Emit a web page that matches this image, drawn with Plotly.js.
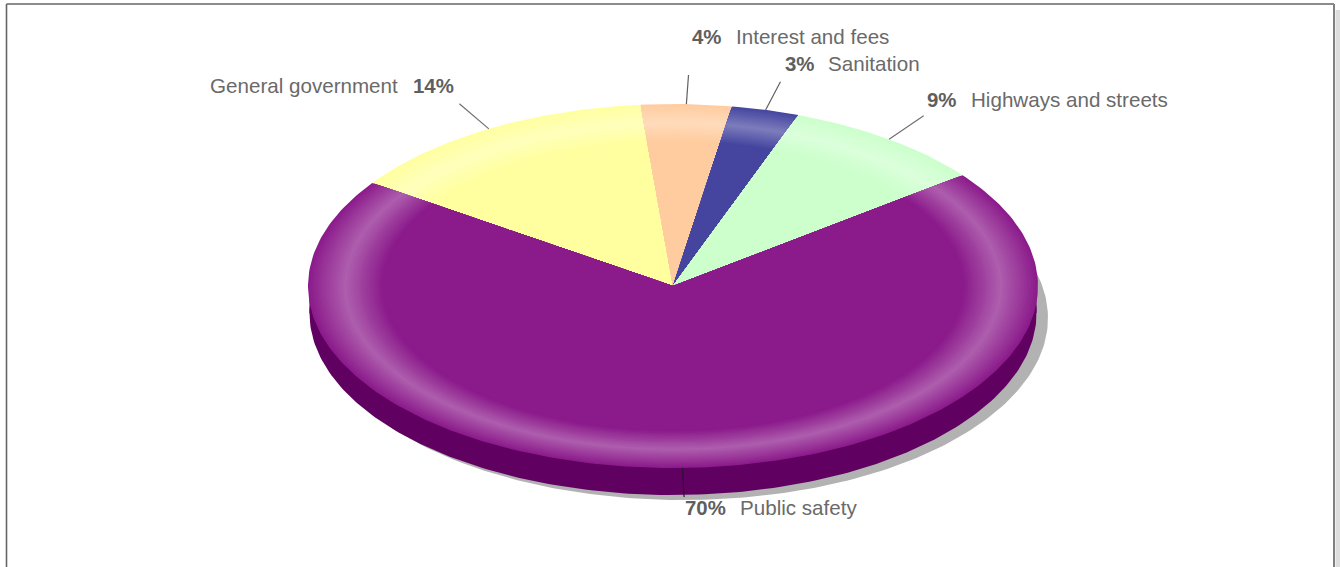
<!DOCTYPE html>
<html>
<head>
<meta charset="utf-8">
<script src="https://cdn.plot.ly/plotly-3.0.1.min.js"></script>
<style>html,body{margin:0;padding:0;background:#fff;overflow:hidden}#chart{width:1340px;height:567px}</style>
</head>
<body>
<div id="chart"></div>
<script>
const categories = ["General government", "Interest and fees", "Sanitation", "Highways and streets", "Public safety"];
const values = [14, 4, 3, 9, 70];
const sliceColors = [[255,255,160], [255,204,159], [69,69,160], [204,255,204], [139,26,139]];
const leaderColors = ["#707070", "#606060", "#606060", "#707070", "#2a1030"];
const percentLabelBox = [[413,85.5], [692,36.8], [785,63.5], [927,99.5], [685,507.5]];
const nameLabelBox = [[210,85.5], [736,36.8], [828,63.5], [971,99.5], [740,507.5]];

const W = 1340, H = 567;
const cx = 673, cy = 286, rx = 365, ry = 182;
const startDeg = -55.5, depth = 27, leaderK = 1.16;
const bands = 34, peakR = 0.897, innerR = 0.795, peakAlpha = 0.30;

const px = x => x / W, py = y => 1 - y / H;
const total = values.reduce((a, b) => a + b, 0);
const traces = [];
const rad = d => d * Math.PI / 180;
const pt = (deg, r) => [r * Math.sin(rad(deg)), r * Math.cos(rad(deg))];

function poly(xs, ys, color) {
  traces.push({type: "scatter", mode: "lines", x: xs, y: ys, fill: "toself", fillcolor: color,
    line: {width: 0, color: color}, hoverinfo: "skip", showlegend: false});
}
function ellipse(dx, dy, r) {
  const xs = [], ys = [];
  for (let d = 0; d <= 360; d += 1) { xs.push(dx + r * Math.sin(rad(d))); ys.push(dy + Math.cos(rad(d))); }
  return [xs, ys];
}
// drop shadow
const sh = ellipse(10 / rx, -32 / ry, 1);
poly(sh[0], sh[1], "#b2b2b2");
// rim: lower half only, so nothing dark shows along the top edge of the slices
const rim = ellipse(0, -depth / ry, 0.996);
poly(rim[0], rim[1], "#600060");
(function () {
  const xs = [-0.996, 0.996, 0.996, -0.996], ys = [0, 0, -depth / ry, -depth / ry];
  poly(xs, ys, "#600060");
})();

// slices with bevel highlight
function alphaAt(r) {
  if (r >= peakR) return peakAlpha * (1 - (r - peakR) / (1 - peakR));
  if (r <= innerR) return 0;
  return peakAlpha * (r - innerR) / (peakR - innerR);
}
function mix(c, a) {
  return "rgb(" + c.map(v => Math.round(v + (255 - v) * a)).join(",") + ")";
}
let acc = startDeg;
const mids = [];
values.forEach((v, i) => {
  const span = v / total * 360;
  const a0 = acc, a1 = acc + span;
  mids.push((a0 + a1) / 2);
  for (let b = 0; b <= bands; b++) {
    const r = 1 - (1 - (innerR - 0.005)) * b / bands;
    const rMid = r - 0.5 * (1 - innerR) / bands;
    const xs = [0], ys = [0];
    const n = Math.ceil(span);
    for (let k = 0; k <= n; k++) {
      const p = pt(a0 + span * k / n, r);
      xs.push(p[0]); ys.push(p[1]);
    }
    xs.push(0); ys.push(0);
    poly(xs, ys, mix(sliceColors[i], alphaAt(rMid)));
  }
  acc = a1;
});

// leader lines
mids.forEach((m, i) => {
  const a = pt(m, 1), b = pt(m, leaderK);
  traces.push({type: "scatter", mode: "lines", x: [a[0], b[0]], y: [a[1], b[1]],
    line: {width: 1.2, color: leaderColors[i]}, hoverinfo: "skip", showlegend: false});
});

const nameFont = {family: "Arial, 'Liberation Sans', sans-serif", size: 20.6, color: "#6a6a6a"};
const pctFont = {family: "Arial, 'Liberation Sans', sans-serif", size: 20.4, color: "#5f5f5f"};
const annotations = [];
categories.forEach((c, i) => {
  annotations.push({xref: "paper", yref: "paper", x: px(nameLabelBox[i][0]), y: py(nameLabelBox[i][1]),
    xanchor: "left", yanchor: "middle", text: c, showarrow: false, font: nameFont, borderpad: 0, borderwidth: 0});
  annotations.push({xref: "paper", yref: "paper", x: px(percentLabelBox[i][0]), y: py(percentLabelBox[i][1]),
    xanchor: "left", yanchor: "middle", text: "<b>" + values[i] + "%</b>", showarrow: false, font: pctFont, borderpad: 0, borderwidth: 0});
});

const frameLine = {color: "#666666", width: 1.6};
const shapes = [
  {type: "rect", xref: "paper", yref: "paper", x0: px(1335.5), x1: 1, y0: 0, y1: py(10), fillcolor: "#dddddd", line: {width: 0}, layer: "below"},
  {type: "line", xref: "paper", yref: "paper", x0: px(6.5), x1: px(6.5), y0: 0, y1: py(4), line: frameLine},
  {type: "line", xref: "paper", yref: "paper", x0: px(6.5), x1: px(1334), y0: py(4), y1: py(4), line: frameLine},
  {type: "line", xref: "paper", yref: "paper", x0: px(1334), x1: px(1334), y0: 0, y1: py(4), line: {color: "#808080", width: 2}}
];

const layout = {
  width: W, height: H,
  margin: {l: 0, r: 0, t: 0, b: 0},
  paper_bgcolor: "#ffffff", plot_bgcolor: "rgba(0,0,0,0)",
  showlegend: false,
  xaxis: {range: [-cx / rx, (W - cx) / rx], visible: false, fixedrange: true},
  yaxis: {range: [-(H - cy) / ry, cy / ry], visible: false, fixedrange: true},
  annotations: annotations,
  shapes: shapes
};
Plotly.newPlot("chart", traces, layout, {displayModeBar: false, responsive: false});
</script>
</body>
</html>
